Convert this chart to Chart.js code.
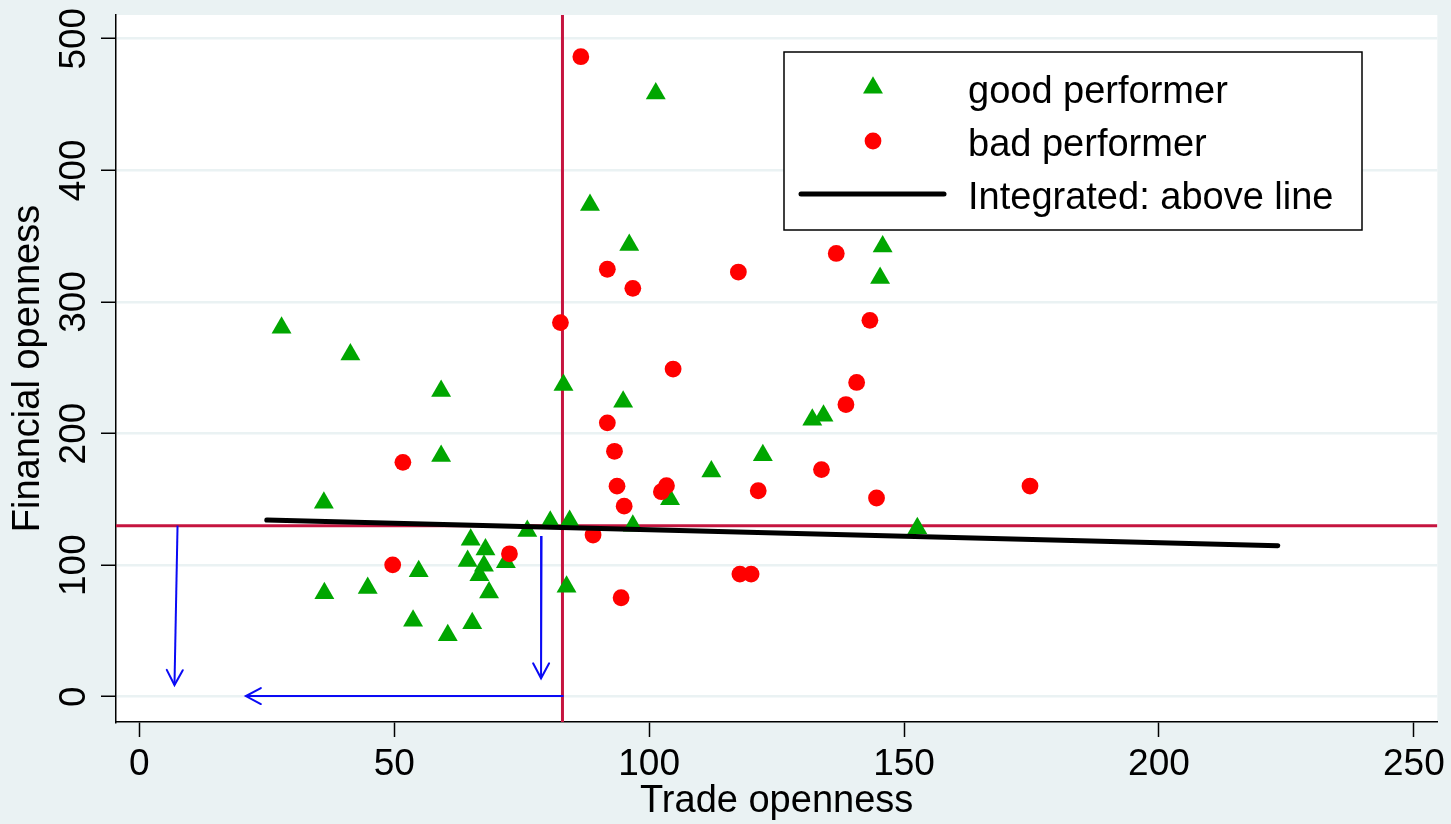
<!DOCTYPE html>
<html><head><meta charset="utf-8">
<script src="https://cdn.jsdelivr.net/npm/chart.js@4.4.1/dist/chart.umd.min.js"></script>
<style>html,body{margin:0;padding:0;background:#EAF2F3;}canvas{display:block;}</style>
</head><body>
<canvas id="c" width="1451" height="824"></canvas>
<script>
// ---- data ----
const goodX = [27.9, 41.4, 59.2, 59.2, 36.2, 76.1, 80.6, 84.4, 65.0, 67.9, 71.9, 64.4, 67.6, 66.7, 68.6, 54.8, 36.3, 44.8, 53.7, 60.5, 65.3, 83.8, 83.2, 96.1, 94.9, 104.1, 112.2, 122.3, 132.0, 134.2, 145.8, 145.3, 152.6, 96.8, 88.4, 101.3];
const goodY = [280.4, 260.1, 232.3, 182.9, 147.4, 125.9, 132.9, 133.5, 119.3, 111.9, 102.2, 103.1, 99.5, 92.3, 79.2, 95.3, 78.6, 82.6, 57.7, 46.7, 55.9, 83.5, 236.8, 343.2, 224.1, 150.0, 171.1, 183.5, 210.4, 213.5, 342.1, 318.1, 128.0, 129.9, 373.6, 458.4];
const badX = [86.6, 91.8, 96.8, 117.5, 136.7, 82.6, 104.7, 91.8, 93.2, 93.7, 95.1, 103.4, 102.4, 121.4, 133.8, 138.6, 140.7, 143.3, 144.6, 89.0, 94.5, 117.8, 120.0, 51.7, 49.7, 72.6, 174.7];
const badY = [486.3, 324.8, 310.3, 322.7, 336.8, 284.3, 249.0, 208.1, 186.5, 160.0, 144.8, 160.3, 155.8, 156.5, 172.6, 222.0, 238.8, 286.0, 151.0, 122.9, 75.2, 93.2, 93.2, 178.1, 100.2, 108.6, 160.1];
const fitX = [25.0, 223.3];
const fitY = [134.3, 114.7];
const tradeThreshold = 83;
const finThreshold = 130;
const arrowAX = [7.5, 6.9];   const arrowAY = [130, 8.9];
const arrowBX = [78.9, 78.8]; const arrowBY = [122.1, 14.0];
const arrowCX = [83.2, 20.9]; const arrowCY = [0.5, 0.5];
const xRange = [-4.57, 254.6];
const yRange = [-19.2, 518];
const xTicks = [0, 50, 100, 150, 200, 250];
const yTicks = [0, 100, 200, 300, 400, 500];
const seriesLabels = ['good performer', 'bad performer', 'Integrated: above line'];
const axisTitles = ['Trade openness', 'Financial openness'];

// ---- build ----
const pts = (xs, ys) => xs.map((x, i) => ({x: x, y: ys[i]}));
const FONT = 'Liberation Sans, Arial, Helvetica, sans-serif';
const GREEN = '#00A600', RED = '#FF0000', CRIMSON = '#C5143F', BLUE = '#0A0AF5';

const lineDs = (label, data, color, width, order, extra) => Object.assign({
  label: label, data: data, showLine: true, borderColor: color, backgroundColor: color,
  borderWidth: width, pointRadius: 0, pointHoverRadius: 0, order: order, borderCapStyle: 'butt'
}, extra || {});

const datasets = [
  lineDs('vline', pts([tradeThreshold, tradeThreshold], yRange), CRIMSON, 3, 10),
  lineDs('hline', pts(xRange, [finThreshold, finThreshold]), CRIMSON, 3, 10),
  {label: seriesLabels[0], data: pts(goodX, goodY), pointStyle: 'triangle', pointRadius: 11.5,
   pointHoverRadius: 11.5, backgroundColor: GREEN, borderColor: GREEN, borderWidth: 0, order: 8},
  {label: seriesLabels[1], data: pts(badX, badY), pointStyle: 'circle', pointRadius: 8.4,
   pointHoverRadius: 8.4, backgroundColor: RED, borderColor: RED, borderWidth: 0, order: 6},
  lineDs(seriesLabels[2], pts(fitX, fitY), '#000000', 5, 4, {borderCapStyle: 'round'}),
  lineDs('arrowA', pts(arrowAX, arrowAY), BLUE, 2, 1, {arrow: true}),
  lineDs('arrowB', pts(arrowBX, arrowBY), BLUE, 2, 1, {arrow: true}),
  lineDs('arrowC', pts(arrowCX, arrowCY), BLUE, 2, 1, {arrow: true})
];

const bgPlugin = {
  id: 'bg',
  beforeDraw(chart) {
    const {ctx, chartArea: a} = chart;
    ctx.save();
    ctx.fillStyle = '#EAF2F3';
    ctx.fillRect(0, 0, chart.width, chart.height);
    ctx.fillStyle = '#FFFFFF';
    ctx.fillRect(a.left, a.top, a.right - a.left, a.bottom - a.top);
    ctx.restore();
  }
};

const arrowPlugin = {
  id: 'arrows',
  afterDatasetsDraw(chart) {
    const ctx = chart.ctx;
    chart.data.datasets.forEach((ds, i) => {
      if (!ds.arrow) return;
      const meta = chart.getDatasetMeta(i);
      const p0 = meta.data[0], p1 = meta.data[meta.data.length - 1];
      const ang = Math.atan2(p1.y - p0.y, p1.x - p0.x);
      const L = 17, spread = 0.49;
      ctx.save();
      ctx.strokeStyle = ds.borderColor; ctx.lineWidth = ds.borderWidth;
      ctx.lineCap = 'round'; ctx.lineJoin = 'miter';
      ctx.beginPath();
      ctx.moveTo(p1.x - L * Math.cos(ang - spread), p1.y - L * Math.sin(ang - spread));
      ctx.lineTo(p1.x, p1.y);
      ctx.lineTo(p1.x - L * Math.cos(ang + spread), p1.y - L * Math.sin(ang + spread));
      ctx.stroke();
      ctx.restore();
    });
  }
};

const yLabelPlugin = {
  id: 'ylabels',
  afterDraw(chart) {
    const ctx = chart.ctx, ys = chart.scales.y;
    ctx.save();
    ctx.fillStyle = '#000';
    ctx.font = '37px ' + FONT;
    ctx.textAlign = 'center';
    ctx.textBaseline = 'alphabetic';
    yTicks.forEach(v => {
      const py = ys.getPixelForValue(v);
      ctx.save();
      ctx.translate(85, py);
      ctx.rotate(-Math.PI / 2);
      ctx.fillText(String(v), 0, 0);
      ctx.restore();
    });
    ctx.restore();
  }
};

function drawMarker(ctx, style, r, x, y, color) {
  ctx.fillStyle = color;
  if (Chart.helpers && Chart.helpers.drawPoint) {
    Chart.helpers.drawPoint(ctx, {pointStyle: style, radius: r, rotation: 0, borderWidth: 0}, x, y);
    return;
  }
  ctx.beginPath();
  if (style === 'circle') ctx.arc(x, y, r, 0, Math.PI * 2);
  else {
    for (let k = 0; k < 3; k++) {
      const a = k * 2 * Math.PI / 3;
      const fx = x + Math.sin(a) * r, fy = y - Math.cos(a) * r;
      k ? ctx.lineTo(fx, fy) : ctx.moveTo(fx, fy);
    }
    ctx.closePath();
  }
  ctx.fill();
}

const legendPlugin = {
  id: 'boxLegend',
  afterDraw(chart) {
    const ctx = chart.ctx;
    const bx = 784, by = 52, bw = 578, bh = 178;
    ctx.save();
    ctx.fillStyle = '#FFFFFF';
    ctx.fillRect(bx, by, bw, bh);
    ctx.strokeStyle = '#000'; ctx.lineWidth = 1.5;
    ctx.strokeRect(bx, by, bw, bh);
    const good = chart.data.datasets[2], bad = chart.data.datasets[3], fit = chart.data.datasets[4];
    drawMarker(ctx, good.pointStyle, good.pointRadius, 873, 87.8, good.backgroundColor);
    drawMarker(ctx, bad.pointStyle, bad.pointRadius, 873, 141, bad.backgroundColor);
    ctx.strokeStyle = fit.borderColor; ctx.lineWidth = fit.borderWidth; ctx.lineCap = 'round';
    ctx.beginPath(); ctx.moveTo(801, 194); ctx.lineTo(944, 194); ctx.stroke();
    ctx.fillStyle = '#000';
    ctx.font = '38px ' + FONT;
    ctx.textAlign = 'left'; ctx.textBaseline = 'alphabetic';
    ctx.fillText(seriesLabels[0], 968, 103);
    ctx.fillText(seriesLabels[1], 968, 156);
    ctx.fillText(seriesLabels[2], 968, 209);
    ctx.restore();
  }
};

new Chart(document.getElementById('c'), {
  type: 'scatter',
  data: {datasets: datasets},
  options: {
    responsive: false, animation: false, devicePixelRatio: 1,
    layout: {padding: {top: 15, right: 13, left: 0, bottom: 0}},
    plugins: {legend: {display: false}, tooltip: {enabled: false}},
    events: [],
    scales: {
      x: {
        type: 'linear', min: xRange[0], max: xRange[1],
        afterBuildTicks: s => { s.ticks = xTicks.map(v => ({value: v})); },
        afterFit: s => { s.height = 102; },
        grid: {display: true, drawOnChartArea: false, drawTicks: true, tickLength: 15, tickColor: '#000', tickWidth: 1.5},
        border: {display: true, color: '#000', width: 1.5},
        ticks: {font: {family: FONT, size: 37}, color: '#000', padding: 6, maxRotation: 0, autoSkip: false},
        title: {display: true, text: axisTitles[0], font: {family: FONT, size: 38}, color: '#000', padding: {top: 0, bottom: 0}}
      },
      y: {
        type: 'linear', min: yRange[0], max: yRange[1],
        afterBuildTicks: s => { s.ticks = yTicks.map(v => ({value: v})); },
        afterFit: s => { s.width = 116; },
        grid: {display: true, drawOnChartArea: true, color: '#EAF2F3', lineWidth: 2.5, drawTicks: true, tickLength: 15, tickColor: '#000', tickWidth: 1.5},
        border: {display: true, color: '#000', width: 1.5},
        ticks: {display: false},
        title: {display: true, text: axisTitles[1], font: {family: FONT, size: 38}, color: '#000', padding: {top: 6, bottom: 0}}
      }
    }
  },
  plugins: [bgPlugin, arrowPlugin, yLabelPlugin, legendPlugin]
});
</script>
</body></html>
